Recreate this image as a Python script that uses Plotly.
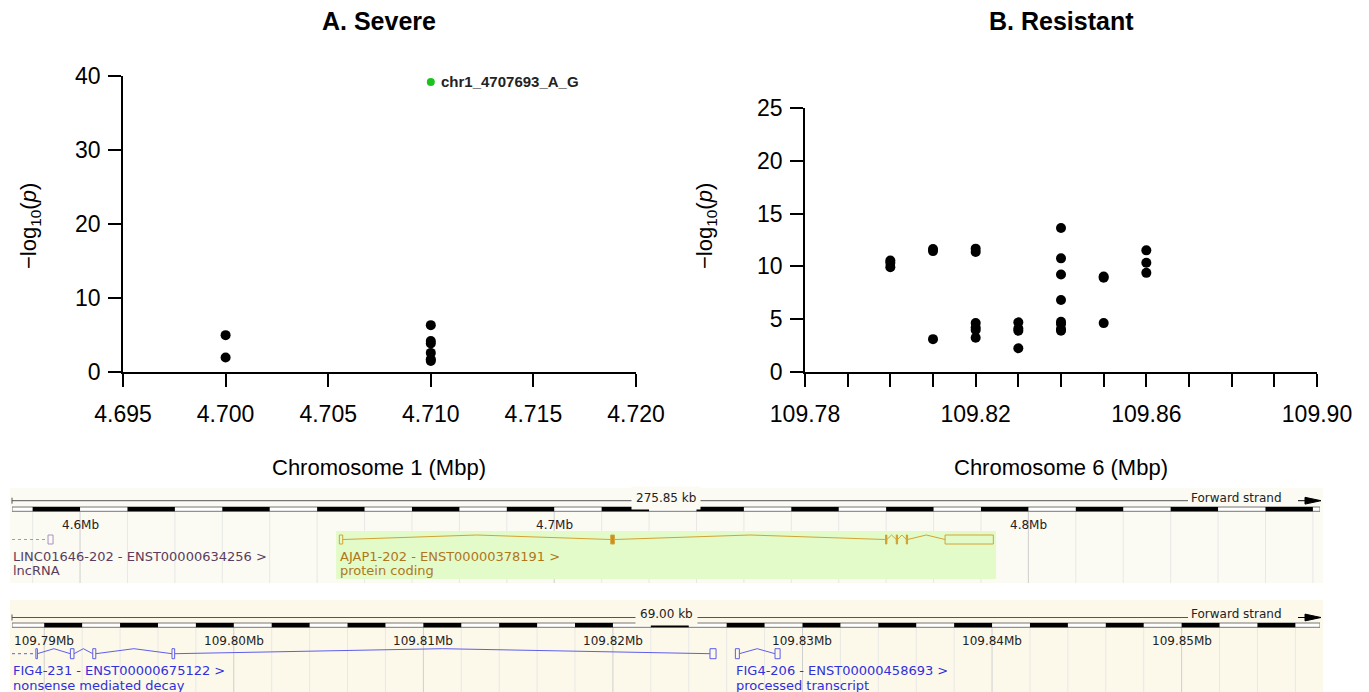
import math
import plotly.graph_objects as go

W, H = 1369, 692
FONT = "Liberation Sans, Arial, sans-serif"
EFONT = "DejaVu Sans, Verdana, sans-serif"

# ---------------- data: panel A (Severe, chr1) ----------------
sev_pos = [4.700, 4.700, 4.710, 4.710, 4.710, 4.710, 4.710, 4.710]
sev_logp = [4.98, 1.95, 6.33, 4.20, 3.85, 2.58, 1.72, 1.50]
sev_lead_pos = [4.710]
sev_lead_logp = [39.2]
sev_lead_name = ["chr1_4707693_A_G"]
sev_xticks = [4.695, 4.700, 4.705, 4.710, 4.715, 4.720]
sev_xticklabels = ["4.695", "4.700", "4.705", "4.710", "4.715", "4.720"]
sev_yticks = [0, 10, 20, 30, 40]

# ---------------- data: panel B (Resistant, chr6) ----------------
res_pos = ([109.80] * 3 + [109.81] * 3 + [109.82] * 6 + [109.83] * 4 +
           [109.84] * 8 + [109.85] * 3 + [109.86] * 3)
res_logp = [10.56, 10.34, 9.93,
            11.64, 11.45, 3.11,
            11.68, 11.36, 4.63, 4.22, 3.97, 3.24,
            4.70, 4.12, 3.90, 2.25,
            13.64, 10.76, 9.23, 6.82, 4.76, 4.54, 4.06, 3.90,
            9.04, 8.92, 4.63,
            11.52, 10.34, 9.39]
res_lead_pos = [109.82]
res_lead_logp = [27.8]
res_lead_name = ["chr6_109822763_G_A"]
res_xticks = [109.78, 109.82, 109.86, 109.90]
res_xticklabels = ["109.78", "109.82", "109.86", "109.90"]
res_minor_dtick = 0.01
res_yticks = [0, 5, 10, 15, 20, 25]

# ---------------- data: Ensembl track chr1 ----------------
chr1_view = [4.58565, 4.86150]
chr1_block_kb = 10
chr1_mb = [4.6, 4.7, 4.8]

linc_name = "LINC01646-202 - ENST00000634256 >"
linc_biotype = "lncRNA"
linc_tx_start = 4.5700
linc_exon_start = [4.59325]
linc_exon_end = [4.59431]
linc_exon_coding = [False]

ajap_name = "AJAP1-202 - ENST00000378191 >"
ajap_biotype = "protein coding"
ajap_tx_start = 4.65469
ajap_exon_start = [4.65469, 4.71192, 4.76988, 4.77214, 4.77425, 4.78243]
ajap_exon_end = [4.65540, 4.71268, 4.77015, 4.77241, 4.77452, 4.79261]
ajap_exon_coding = [False, True, True, True, True, False]
ajap_highlight = [4.65399, 4.79318]

# ---------------- data: Ensembl track chr6 ----------------
chr6_view = [109.78830, 109.85730]
chr6_block_kb = 2
chr6_mb = [109.79, 109.80, 109.81, 109.82, 109.83, 109.84, 109.85]

fig4a_name = "FIG4-231 - ENST00000675122 >"
fig4a_biotype = "nonsense mediated decay"
fig4a_tx_start = 109.7800
fig4a_exon_start = [109.78956, 109.79138, 109.79256, 109.79674, 109.82512]
fig4a_exon_end = [109.78964, 109.79157, 109.79272, 109.79688, 109.82544]
fig4a_exon_coding = [False, False, False, False, False]

fig4b_name = "FIG4-206 - ENST00000458693 >"
fig4b_biotype = "processed transcript"
fig4b_tx_start = 109.82646
fig4b_exon_start = [109.82646, 109.82855]
fig4b_exon_end = [109.82667, 109.82882]
fig4b_exon_coding = [False, False]

# ---------------- figure ----------------
fig = go.Figure()
shapes = []
annotations = []


def py(p):
    return 1 - p / H


def pxx(p):
    return p / W


# --- scatter panels ---
fig.add_trace(go.Scatter(x=sev_pos, y=sev_logp, mode="markers", xaxis="x", yaxis="y",
                         marker=dict(color="black", size=10), showlegend=False))
fig.add_trace(go.Scatter(x=sev_lead_pos, y=sev_lead_logp, mode="markers", xaxis="x", yaxis="y",
                         marker=dict(color="#1ec21e", size=8), cliponaxis=False, showlegend=False))
fig.add_trace(go.Scatter(x=res_pos, y=res_logp, mode="markers", xaxis="x2", yaxis="y2",
                         marker=dict(color="black", size=10), showlegend=False))
fig.add_trace(go.Scatter(x=res_lead_pos, y=res_lead_logp, mode="markers", xaxis="x2", yaxis="y2",
                         marker=dict(color="#1ec21e", size=8), cliponaxis=False, showlegend=False))

for xs, ys, names, xr, yr in [(sev_lead_pos, sev_lead_logp, sev_lead_name, "x", "y"),
                               (res_lead_pos, res_lead_logp, res_lead_name, "x2", "y2")]:
    for x, y, t in zip(xs, ys, names):
        annotations.append(dict(x=x, y=y, xref=xr, yref=yr, text="<b>%s</b>" % t,
                                showarrow=False, xanchor="left", yanchor="middle", xshift=8,
                                font=dict(family=FONT, size=15, color="#222222")))

# titles
for cx, t in [(379, "<b>A. Severe</b>"), (1061, "<b>B. Resistant</b>")]:
    annotations.append(dict(x=pxx(cx), y=py(21), xref="paper", yref="paper", text=t,
                            showarrow=False, xanchor="center", yanchor="middle",
                            font=dict(family=FONT, size=25, color="black")))
# axis titles
for cx, t in [(379, "Chromosome 1 (Mbp)"), (1061, "Chromosome 6 (Mbp)")]:
    annotations.append(dict(x=pxx(cx), y=py(467), xref="paper", yref="paper", text=t,
                            showarrow=False, xanchor="center", yanchor="middle",
                            font=dict(family=FONT, size=22, color="black")))
for cx in [30, 706]:
    annotations.append(dict(x=pxx(cx), y=py(226), xref="paper", yref="paper",
                            text="\u2212log<sub>10</sub>(<i>p</i>)", textangle=-90,
                            showarrow=False, xanchor="center", yanchor="middle",
                            font=dict(family=FONT, size=22, color="black")))


# --- Ensembl-like tracks ---
def blocks(view, block_kb):
    s_kb, e_kb = view[0] * 1000, view[1] * 1000
    i = int(math.floor(s_kb / block_kb + 1e-9))
    out = []
    while i * block_kb < e_kb - 1e-9:
        a = max(i * block_kb, s_kb)
        b = min((i + 1) * block_kb, e_kb)
        out.append((a / 1000.0, b / 1000.0, i % 2 == 1))
        i += 1
    return out


def build_track(xa, ya, view, block_kb, mb_vals, mb_fmt, bg, rows, top_px, bot_px):
    shapes.append(dict(type="rect", xref="paper", yref="paper", x0=pxx(10), x1=pxx(1323),
                       y0=py(bot_px), y1=py(top_px), fillcolor=bg, line=dict(width=0), layer="below"))
    bl = blocks(view, block_kb)
    for (a, b, blk) in bl[1:]:
        is_mb = any(abs(a - m) < 1e-7 for m in mb_vals)
        shapes.append(dict(type="line", xref=xa, yref=ya, x0=a, x1=a, y0=rows["bar"][1], y1=rows["bottom"],
                           line=dict(color="#cfcfcf" if is_mb else "#e8e8e6", width=1), layer="below"))
    # scale bar
    shapes.append(dict(type="rect", xref=xa, yref=ya, x0=view[0], x1=view[1], y0=rows["bar"][0],
                       y1=rows["bar"][1], fillcolor="white", line=dict(color="#777777", width=1)))
    for (a, b, blk) in bl:
        if blk:
            shapes.append(dict(type="rect", xref=xa, yref=ya, x0=a, x1=b, y0=rows["bar"][0],
                               y1=rows["bar"][1], fillcolor="black", line=dict(width=0)))
    # top ruler line
    yl = rows["line"]
    shapes.append(dict(type="line", xref="paper", yref=ya, x0=pxx(12), x1=pxx(1188), y0=yl, y1=yl,
                       line=dict(color="#555555", width=1)))
    shapes.append(dict(type="line", xref="paper", yref=ya, x0=pxx(12), x1=pxx(12), y0=yl - 3, y1=yl + 3,
                       line=dict(color="#555555", width=1)))
    shapes.append(dict(type="line", xref="paper", yref=ya, x0=pxx(1298), x1=pxx(1306), y0=yl, y1=yl,
                       line=dict(color="black", width=1)))
    shapes.append(dict(type="path", xref="paper", yref=ya,
                       path="M %f,%f L %f,%f L %f,%f Z" % (pxx(1305), yl - 3.4, pxx(1321), yl, pxx(1305), yl + 3.4),
                       fillcolor="black", line=dict(color="black", width=1)))
    span = "%.2f kb" % ((view[1] - view[0]) * 1000)
    annotations.append(dict(x=(view[0] + view[1]) / 2, y=rows["scale_text"], xref=xa, yref=ya, text=span,
                            showarrow=False, bgcolor=bg, borderpad=4, xanchor="center", yanchor="middle",
                            font=dict(family=EFONT, size=12, color="#222222")))
    annotations.append(dict(x=pxx(1189), y=rows["scale_text"], xref="paper", yref=ya, text="Forward strand",
                            showarrow=False, xanchor="left", yanchor="middle",
                            font=dict(family=EFONT, size=12, color="#222222")))
    for m in mb_vals:
        annotations.append(dict(x=m, y=rows["mb"], xref=xa, yref=ya, text=mb_fmt % m, showarrow=False,
                                xanchor="center", yanchor="middle",
                                font=dict(family=EFONT, size=12, color="#222222")))


def draw_gene(xa, ya, view, exs, exe, coding, tx_start, name, biotype, gcolor, tcolor, fillc, rows):
    yc, hh = rows["gene"], rows["half"]
    if tx_start < view[0]:
        fig.add_trace(go.Scatter(x=[view[0], exs[0]], y=[yc, yc], mode="lines", xaxis=xa, yaxis=ya,
                                 line=dict(color=gcolor, width=1, dash="dot"), showlegend=False,
                                 hoverinfo="skip"))
    xs, ys = [], []
    for i in range(len(exs) - 1):
        a, b = exe[i], exs[i + 1]
        xs += [a, (a + b) / 2, b, None]
        ys += [yc, yc - hh, yc, None]
    if xs:
        fig.add_trace(go.Scatter(x=xs, y=ys, mode="lines", xaxis=xa, yaxis=ya,
                                 line=dict(color=gcolor, width=1), showlegend=False, hoverinfo="skip"))
    for s, e, c in zip(exs, exe, coding):
        shapes.append(dict(type="rect", xref=xa, yref=ya, x0=s, x1=e, y0=yc - hh, y1=yc + hh,
                           fillcolor=fillc if c else "rgba(0,0,0,0)", line=dict(color=gcolor, width=1)))
    lx = max(tx_start, view[0])
    for t, yy in [(name, rows["t1"]), (biotype, rows["t2"])]:
        annotations.append(dict(x=lx, y=yy, xref=xa, yref=ya, text=t, showarrow=False, xanchor="left",
                                yanchor="middle", xshift=-1, font=dict(family=EFONT, size=13, color=tcolor)))


rows1 = dict(line=12.7, scale_text=10, bar=(19, 23.3), mb=37, gene=51.5, half=4.5, t1=68, t2=82,
             bottom=95)
rows2 = dict(line=17.5, scale_text=14, bar=(23, 27.3), mb=41, gene=53.7, half=5, t1=70, t2=85,
             bottom=92)

BG1 = "#fbfaf3"
BG2 = "#fcf8ea"
build_track("x3", "y3", chr1_view, chr1_block_kb, chr1_mb, "%.1fMb", BG1, rows1, 488, 583)
shapes.append(dict(type="rect", xref="x3", yref="y3", x0=ajap_highlight[0], x1=ajap_highlight[1],
                   y0=43, y1=91, fillcolor="#e3fbc8", line=dict(width=0), layer="below"))
draw_gene("x3", "y3", chr1_view, linc_exon_start, linc_exon_end, linc_exon_coding, linc_tx_start,
          linc_name, linc_biotype, "#a893c2", "#5a3d5c", "#a893c2", rows1)
draw_gene("x3", "y3", chr1_view, ajap_exon_start, ajap_exon_end, ajap_exon_coding, ajap_tx_start,
          ajap_name, ajap_biotype, "#d4a235", "#b0761c", "#c88f1c", rows1)

build_track("x4", "y4", chr6_view, chr6_block_kb, chr6_mb, "%.2fMb", BG2, rows2, 600, 692)
draw_gene("x4", "y4", chr6_view, fig4a_exon_start, fig4a_exon_end, fig4a_exon_coding, fig4a_tx_start,
          fig4a_name, fig4a_biotype, "#5e5eea", "#3030dc", "#5e5eea", rows2)
draw_gene("x4", "y4", chr6_view, fig4b_exon_start, fig4b_exon_end, fig4b_exon_coding, fig4b_tx_start,
          fig4b_name, fig4b_biotype, "#5e5eea", "#3030dc", "#5e5eea", rows2)

ax_common = dict(showgrid=False, zeroline=False, showline=True, linecolor="black", linewidth=1.5,
                 ticks="outside", ticklen=13, tickwidth=1.5, tickcolor="black",
                 tickfont=dict(family=FONT, size=23, color="black"))

fig.update_layout(
    width=W, height=H, template="none",
    margin=dict(l=0, r=0, t=0, b=0, pad=0),
    paper_bgcolor="white", plot_bgcolor="rgba(0,0,0,0)",
    showlegend=False,
    xaxis=dict(domain=[pxx(123), pxx(636)], range=[4.695, 4.720], tickvals=sev_xticks,
               ticktext=sev_xticklabels, anchor="y", ticklabelstandoff=8, **ax_common),
    yaxis=dict(domain=[py(372), py(76)], range=[0, 40], tickvals=sev_yticks, anchor="x",
               ticklabelstandoff=3, **ax_common),
    xaxis2=dict(domain=[pxx(805), pxx(1317)], range=[109.78, 109.90], tickvals=res_xticks,
                ticktext=res_xticklabels, anchor="y2", ticklabelstandoff=8,
                minor=dict(tick0=res_xticks[0], dtick=res_minor_dtick, ticks="outside", ticklen=13,
                           tickwidth=1.5, tickcolor="black", showgrid=False),
                **ax_common),
    yaxis2=dict(domain=[py(372), py(108)], range=[0, 25], tickvals=res_yticks, anchor="x2",
                ticklabelstandoff=3, **ax_common),
    xaxis3=dict(domain=[pxx(12), pxx(1320)], range=chr1_view, visible=False, anchor="y3"),
    yaxis3=dict(domain=[py(583), py(488)], range=[95, 0], visible=False, anchor="x3"),
    xaxis4=dict(domain=[pxx(12), pxx(1320)], range=chr6_view, visible=False, anchor="y4"),
    yaxis4=dict(domain=[0, py(600)], range=[92, 0], visible=False, anchor="x4"),
    shapes=shapes,
    annotations=annotations,
)

fig.write_html("out.html")
